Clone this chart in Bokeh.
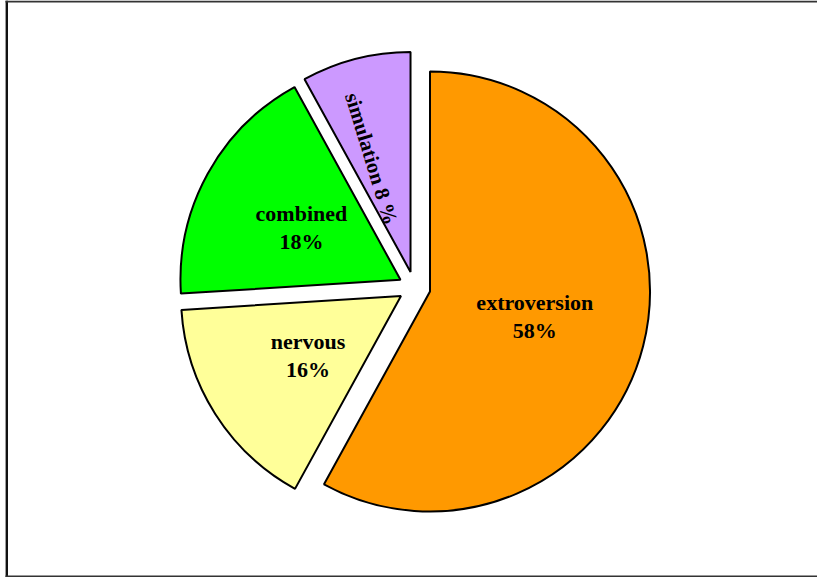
import numpy as np
from bokeh.plotting import figure
from bokeh.models import Range1d, ColumnDataSource
from bokeh.embed import file_html
from bokeh.resources import INLINE
from bokeh.core.properties import value

# ---- data ----
categories = ["extroversion", "nervous", "combined", "simulation"]
percents = [58, 16, 18, 8]
name_labels = ["extroversion", "nervous", "combined"]
pct_labels = ["58%", "16%", "18%"]
rotated_label = "simulation 8 %"
colors = ["#FF9900", "#FFFF99", "#00FF00", "#CC99FF"]

# ---- layout ----
W, H = 817, 577
cx, cy = 414, 290          # pie centre (data units = pixels)
R = 220
explode = 16
lab_frac = [0.49, 0.50, 0.51, 0.545]
lab_dang = np.radians([0.9, 0.0, 0.8, 4.6])

fr = np.array(percents, dtype=float) / sum(percents)
cum = np.concatenate([[0.0], np.cumsum(fr)])
a_start = np.pi / 2 - 2 * np.pi * cum[:-1]
a_end = np.pi / 2 - 2 * np.pi * cum[1:]
mid = (a_start + a_end) / 2
xs = cx + explode * np.cos(mid)
ys = cy + explode * np.sin(mid)

lx = xs + np.array(lab_frac) * R * np.cos(mid + lab_dang)
ly = ys + np.array(lab_frac) * R * np.sin(mid + lab_dang)

p = figure(width=W, height=H, x_range=Range1d(0, W), y_range=Range1d(0, H),
           output_backend="svg", toolbar_location=None, min_border=0)
p.axis.visible = False
p.grid.visible = False
p.outline_line_color = None
p.background_fill_color = "white"
p.border_fill_color = "white"

src = ColumnDataSource(dict(x=xs, y=ys, s=a_end, e=a_start, c=colors, cat=categories))
p.wedge(x="x", y="y", radius=R, start_angle="s", end_angle="e", direction="anticlock",
        fill_color="c", line_color="black", line_width=2, source=src)

font = value("Liberation Serif")
fs = "22px"
tsrc = ColumnDataSource(dict(x=lx[:3], y=ly[:3], n=name_labels, pc=pct_labels))
p.text(x="x", y="y", text="n", source=tsrc, text_font=font, text_font_style="bold",
       text_font_size=fs, text_align="center", text_baseline="middle",
       y_offset=-14, text_color="black")
p.text(x="x", y="y", text="pc", source=tsrc, text_font=font, text_font_style="bold",
       text_font_size=fs, text_align="center", text_baseline="middle",
       y_offset=14, text_color="black")
p.text(x=[lx[3]], y=[ly[3]], text=[rotated_label], text_font=font, text_font_style="bold",
       text_font_size="21px", text_align="center", text_baseline="middle",
       angle=np.radians(-73), text_color="black")

# frame lines (top, left, bottom)
p.line(x=[6.3, 6.3], y=[0, H], line_color="#111111", line_width=2.4)
p.line(x=[5, W], y=[H - 1, H - 1], line_color="#333333", line_width=2)
p.line(x=[5, W], y=[1, 1], line_color="#333333", line_width=2)

open("out.html", "w").write(file_html(p, INLINE))
